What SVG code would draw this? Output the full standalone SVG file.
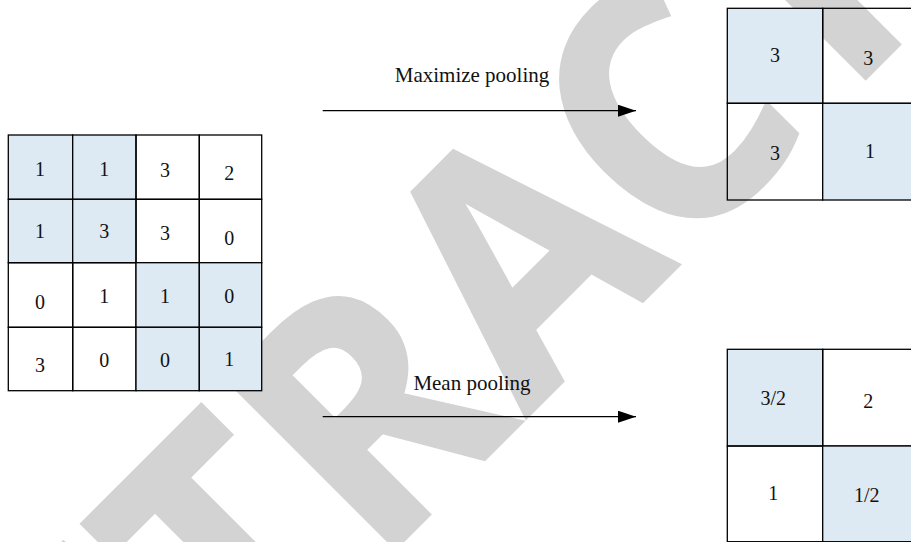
<svg xmlns="http://www.w3.org/2000/svg" width="911" height="542" viewBox="0 0 911 542">
<style>
.wm{font-family:"Open Sans","Liberation Sans",sans-serif;font-weight:700;fill:#d3d3d3;stroke:#d3d3d3;stroke-width:4;stroke-linejoin:miter;letter-spacing:2px}
.c{fill:none;stroke:#000;stroke-width:1.3}
.b{fill:#dde9f3;stroke:#000;stroke-width:1.3}
.t{font-family:"Liberation Serif","Times New Roman",serif;font-size:20px;fill:#111;text-anchor:middle}
.l{font-family:"Liberation Serif","Times New Roman",serif;font-size:21px;fill:#111;text-anchor:middle}
.a{stroke:#000;stroke-width:1.3;fill:none}
</style>
<defs>
<marker id="ah" markerUnits="userSpaceOnUse" markerWidth="18" markerHeight="12" refX="18" refY="6" orient="auto"><path d="M0,0 L18,6 L0,12 Z" fill="#000"/></marker>
</defs>
<rect width="911" height="542" fill="#fff"/>
<text class="wm" font-size="312" transform="translate(-25.5,968.8) rotate(-45) scale(1,1.07)" dx="0 0 0 0 5 -5 0 0 0">RETRACTED</text>
<g id="input-grid">
<rect class="b" x="8.3" y="135" width="64.4" height="64.3"/>
<rect class="b" x="72.7" y="135" width="63.3" height="64.3"/>
<rect class="c" x="136" y="135" width="63.3" height="64.3"/>
<rect class="c" x="199.3" y="135" width="62.4" height="64.3"/>
<rect class="b" x="8.3" y="199.3" width="64.4" height="63.4"/>
<rect class="b" x="72.7" y="199.3" width="63.3" height="63.4"/>
<rect class="c" x="136" y="199.3" width="63.3" height="63.4"/>
<rect class="c" x="199.3" y="199.3" width="62.4" height="63.4"/>
<rect class="c" x="8.3" y="262.7" width="64.4" height="64.6"/>
<rect class="c" x="72.7" y="262.7" width="63.3" height="64.6"/>
<rect class="b" x="136" y="262.7" width="63.3" height="64.6"/>
<rect class="b" x="199.3" y="262.7" width="62.4" height="64.6"/>
<rect class="c" x="8.3" y="327.3" width="64.4" height="63.4"/>
<rect class="c" x="72.7" y="327.3" width="63.3" height="63.4"/>
<rect class="b" x="136" y="327.3" width="63.3" height="63.4"/>
<rect class="b" x="199.3" y="327.3" width="62.4" height="63.4"/>
<text class="t" x="40" y="175.7">1</text>
<text class="t" x="104.3" y="175.7">1</text>
<text class="t" x="165" y="176.7">3</text>
<text class="t" x="229.3" y="180">2</text>
<text class="t" x="40" y="238.3">1</text>
<text class="t" x="104.3" y="238.3">3</text>
<text class="t" x="165" y="240">3</text>
<text class="t" x="229.3" y="245">0</text>
<text class="t" x="40" y="309.3">0</text>
<text class="t" x="104.3" y="303.3">1</text>
<text class="t" x="165" y="303.3">1</text>
<text class="t" x="229.3" y="302.7">0</text>
<text class="t" x="40" y="371.7">3</text>
<text class="t" x="104.3" y="367.3">0</text>
<text class="t" x="165" y="367.3">0</text>
<text class="t" x="229.3" y="366">1</text>
</g>
<g id="max-grid">
<rect class="b" x="727.3" y="8.3" width="95.4" height="95"/>
<rect class="c" x="822.7" y="8.3" width="96" height="95"/>
<rect class="c" x="727.3" y="103.3" width="95.4" height="96.7"/>
<rect class="b" x="822.7" y="103.3" width="96" height="96.7"/>
<text class="t" x="775" y="61.7">3</text>
<text class="t" x="868.3" y="65">3</text>
<text class="t" x="775" y="160">3</text>
<text class="t" x="870" y="158.3">1</text>
</g>
<g id="mean-grid">
<rect class="b" x="727.3" y="349.3" width="95.4" height="96.7"/>
<rect class="c" x="822.7" y="349.3" width="96" height="96.7"/>
<rect class="c" x="727.3" y="446" width="95.4" height="95.7"/>
<rect class="b" x="822.7" y="446" width="96" height="95.7"/>
<text class="t" x="773.3" y="405">3/2</text>
<text class="t" x="868.3" y="408.3">2</text>
<text class="t" x="773.3" y="500">1</text>
<text class="t" x="866.7" y="501.7">1/2</text>
</g>
<g id="connectors">
<line class="a" x1="322.7" y1="110.7" x2="636" y2="110.7" marker-end="url(#ah)"/>
<line class="a" x1="322.7" y1="416.7" x2="636" y2="416.7" marker-end="url(#ah)"/>
<text class="l" x="472" y="82.3">Maximize pooling</text>
<text class="l" x="472" y="390">Mean pooling</text>
</g>
</svg>
